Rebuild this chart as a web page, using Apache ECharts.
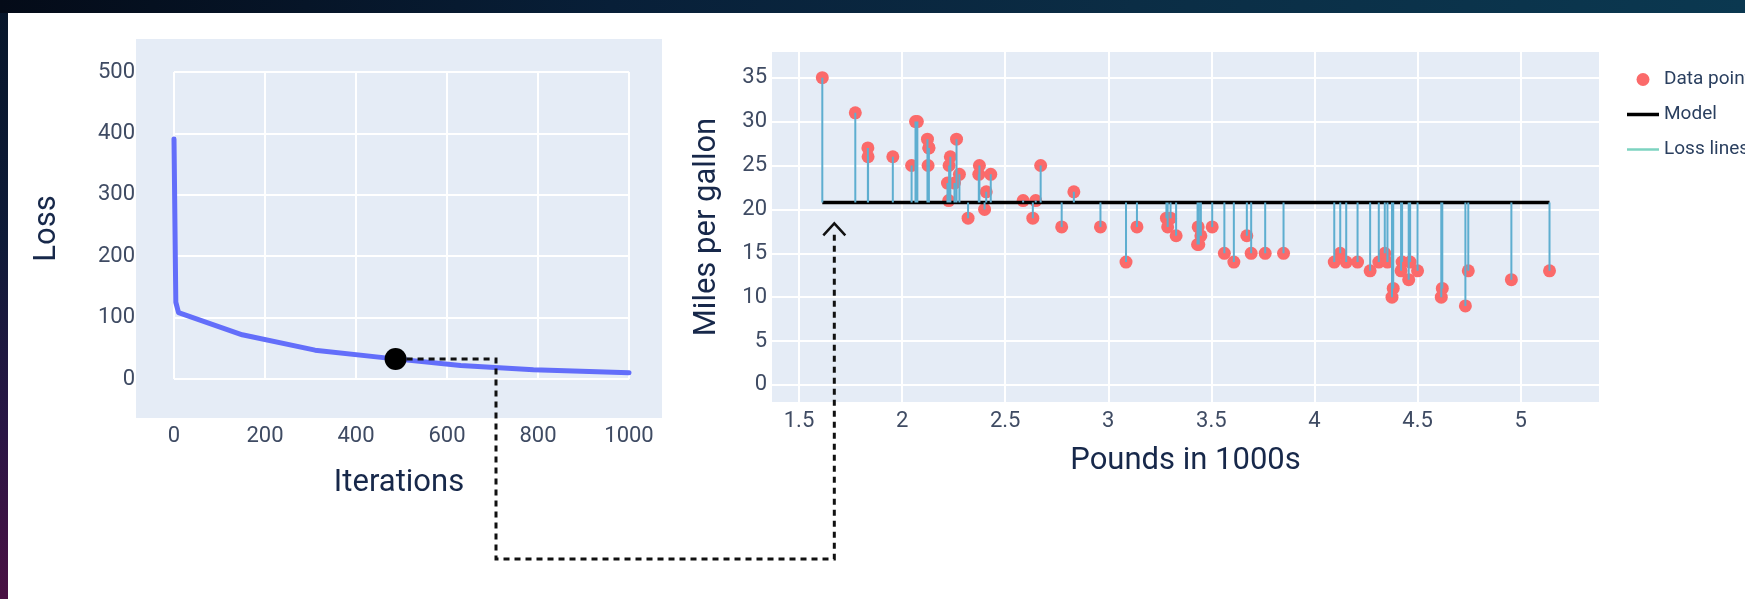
<!DOCTYPE html>
<html>
<head>
<meta charset="utf-8">
<script src="https://cdn.jsdelivr.net/npm/echarts@6/dist/echarts.min.js"></script>
<style>
  html, body { margin: 0; padding: 0; }
  body {
    width: 1745px; height: 599px; overflow: hidden; position: relative;
    background: linear-gradient(180deg, #07162a 0%, #0f1b38 40%, #2a1645 72%, #4a1143 100%);
  }
  #topband {
    position: absolute; left: 0; top: 0; width: 1745px; height: 13px;
    background: linear-gradient(90deg, #040b18 0%, #081f38 35%, #0b2d45 65%, #0b3850 100%);
  }
  #panel { position: absolute; left: 8px; top: 13px; width: 1737px; height: 586px; background: #ffffff; }
  #chart { position: absolute; left: 0; top: 0; width: 1745px; height: 599px; }
</style>
</head>
<body>
<div id="topband"></div>
<div id="panel"></div>
<div id="chart"></div>
<script>
// Training curve: loss per gradient-descent iteration
const iterations = [0, 4, 10, 150, 310, 470, 630, 790, 1000];
const lossValues = [391, 125, 108, 72, 47, 34, 22, 15, 10];
// Iteration whose model is drawn on the right
const currentIteration = 487;
const currentLoss = 32.7;

// Cars: weight (1000s of pounds) and fuel economy (mpg)
const weights = [1.613, 1.773, 1.834, 1.835, 1.955, 2.046, 2.065, 2.074, 2.123, 2.130,
  2.130, 2.126, 2.234, 2.228, 2.220, 2.226, 2.264, 2.278, 2.254, 2.375,
  2.372, 2.430, 2.408, 2.400, 2.320, 2.587, 2.648, 2.634, 2.672, 2.833,
  2.774, 2.962, 3.086, 3.139, 3.282, 3.302, 3.288, 3.329, 3.436, 3.433,
  3.439, 3.449, 3.504, 3.563, 3.609, 3.672, 3.693, 3.761, 3.850, 4.096,
  4.125, 4.154, 4.209, 4.270, 4.312, 4.341, 4.354, 4.382, 4.376, 4.425,
  4.420, 4.457, 4.464, 4.500, 4.620, 4.615, 4.732, 4.746, 4.955, 5.140];
const mpg = [35, 31, 27, 26, 26, 25, 30, 30, 28, 27,
  27, 25, 26, 25, 23, 21, 28, 24, 23, 25,
  24, 24, 22, 20, 19, 21, 21, 19, 25, 22,
  18, 18, 14, 18, 19, 19, 18, 17, 18, 16,
  16, 17, 18, 15, 14, 17, 15, 15, 15, 14,
  15, 14, 14, 13, 14, 15, 14, 11, 10, 14,
  13, 12, 14, 13, 11, 10, 9, 13, 12, 13];

// Current model (end points of the fitted line)
const modelWeights = [1.613, 5.14];
const modelMpg = [20.8, 20.8];

// Tick labels
const iterTicks = [0, 200, 400, 600, 800, 1000];
const lossTicks = [0, 100, 200, 300, 400, 500];
const weightTicks = [1.5, 2, 2.5, 3, 3.5, 4, 4.5, 5];
const mpgTicks = [0, 5, 10, 15, 20, 25, 30, 35];

const FONT = 'Roboto';
const TICK_COLOR = '#3f4b63';
const TITLE_COLOR = '#17284a';
const PLOT_BG = '#e5ecf6';

function modelAt(w) {
  const t = (w - modelWeights[0]) / (modelWeights[1] - modelWeights[0]);
  return modelMpg[0] + t * (modelMpg[1] - modelMpg[0]);
}

const lossCurve = iterations.map((it, i) => [it, lossValues[i]]);
const carPoints = weights.map((w, i) => [w, mpg[i]]);
const modelLine = modelWeights.map((w, i) => [w, modelMpg[i]]);
const residuals = [];
weights.forEach((w, i) => {
  residuals.push([w, mpg[i]], [w, modelAt(w)], [w, '-']);
});

const plainNumber = v => String(v);
const tickLabel = { fontFamily: FONT, fontSize: 22, color: TICK_COLOR, formatter: plainNumber };
const titleText = { fontFamily: FONT, fontSize: 31, color: TITLE_COLOR };
const whiteGrid = { show: true, lineStyle: { color: '#ffffff', width: 2 } };
const hiddenParts = {
  axisLine: { show: false }, axisTick: { show: false },
  axisLabel: { show: false }, splitLine: { show: false }
};

const chart = echarts.init(document.getElementById('chart'), null, { renderer: 'canvas' });

const option = {
  animation: false,
  backgroundColor: 'transparent',
  textStyle: { fontFamily: FONT },
  grid: [
    // loss panel background
    { left: 136, top: 39, width: 526, height: 379, show: true, backgroundColor: PLOT_BG, borderWidth: 0, z: 0 },
    // loss data area
    { left: 174, top: 72, width: 455, height: 307, show: false, z: 1 },
    // scatter panel
    { left: 772, top: 52, width: 827, height: 350, show: true, backgroundColor: PLOT_BG, borderWidth: 0, z: 0 }
  ],
  xAxis: [
    Object.assign({ gridIndex: 0, type: 'value', min: -81, max: 1071,
      name: 'Iterations', nameLocation: 'middle', nameGap: 50, nameTextStyle: titleText }, hiddenParts),
    { gridIndex: 1, type: 'value', min: iterTicks[0], max: iterTicks[iterTicks.length - 1], interval: 200, z: 3,
      axisLine: { show: false }, axisTick: { show: false },
      axisLabel: Object.assign({ margin: 46 }, tickLabel), splitLine: whiteGrid },
    { gridIndex: 2, type: 'value', min: 1.369, max: 5.38, z: 3,
      name: 'Pounds in 1000s', nameLocation: 'middle', nameGap: 44, nameTextStyle: titleText,
      axisLine: { show: false }, axisTick: { show: false, customValues: weightTicks },
      axisLabel: Object.assign({ margin: 8, customValues: weightTicks }, tickLabel), splitLine: whiteGrid }
  ],
  yAxis: [
    Object.assign({ gridIndex: 0, type: 'value', min: -63.5, max: 554,
      name: 'Loss', nameLocation: 'middle', nameGap: 73, nameRotate: 90, nameTextStyle: titleText }, hiddenParts),
    { gridIndex: 1, type: 'value', min: lossTicks[0], max: lossTicks[lossTicks.length - 1], interval: 100, z: 3,
      axisLine: { show: false }, axisTick: { show: false },
      axisLabel: Object.assign({ margin: 39 }, tickLabel), splitLine: whiteGrid },
    { gridIndex: 2, type: 'value', min: -1.94, max: 37.93, z: 3,
      name: 'Miles per gallon', nameLocation: 'middle', nameGap: 49, nameRotate: 90, nameTextStyle: titleText,
      axisLine: { show: false }, axisTick: { show: false, customValues: mpgTicks },
      axisLabel: Object.assign({ margin: 5, customValues: mpgTicks }, tickLabel), splitLine: whiteGrid }
  ],
  legend: {
    orient: 'vertical', left: 1622, top: 65,
    itemWidth: 32, itemHeight: 13, itemGap: 16,
    symbolKeepAspect: true,
    textStyle: { fontFamily: FONT, fontSize: 19, color: '#2a3f5f' },
    data: [
      { name: 'Data points', icon: 'circle', itemStyle: { color: '#fb6a6a', opacity: 1 } },
      { name: 'Model', icon: 'path://M0,0H32V3.5H0Z', itemStyle: { color: '#000000' } },
      { name: 'Loss lines', icon: 'path://M0,0H32V2.5H0Z', itemStyle: { color: '#7dd3c0' } }
    ]
  },
  series: [
    { type: 'line', name: 'Loss', xAxisIndex: 1, yAxisIndex: 1, data: lossCurve,
      symbol: 'none', clip: false, z: 3,
      lineStyle: { color: '#636efa', width: 5, join: 'round', cap: 'round' } },
    { type: 'scatter', name: 'Current', xAxisIndex: 1, yAxisIndex: 1,
      data: [[currentIteration, currentLoss]], symbolSize: 22, z: 6,
      itemStyle: { color: '#000000', opacity: 1 } },
    { type: 'scatter', name: 'Data points', xAxisIndex: 2, yAxisIndex: 2, data: carPoints,
      symbolSize: 13, z: 3, itemStyle: { color: '#fb6a6a', opacity: 1 } },
    { type: 'line', name: 'Model', xAxisIndex: 2, yAxisIndex: 2, data: modelLine,
      symbol: 'none', z: 4, itemStyle: { color: '#000000' },
      lineStyle: { color: '#000000', width: 3.5 } },
    { type: 'line', name: 'Loss lines', xAxisIndex: 2, yAxisIndex: 2, data: residuals,
      symbol: 'none', connectNulls: false, z: 5, itemStyle: { color: '#7dd3c0' },
      lineStyle: { color: '#5eaed0', width: 2 } }
  ]
};

chart.setOption(option);

// Dashed connector from the current iteration to the model it produces
const from = chart.convertToPixel({ xAxisIndex: 1, yAxisIndex: 1 }, [currentIteration, currentLoss]);
const modelStart = chart.convertToPixel({ xAxisIndex: 2, yAxisIndex: 2 }, modelLine[0]);
const elbowX = 496;
const bottomY = 559;
const arrowX = modelStart[0] + 12;
const tipY = modelStart[1] + 21;

chart.setOption({
  graphic: [
    { type: 'polyline', z: 5, silent: true,
      shape: { points: [[from[0], from[1]], [elbowX, from[1]], [elbowX, bottomY], [arrowX, bottomY], [arrowX, tipY + 9]] },
      style: { stroke: '#111111', lineWidth: 3, lineDash: [6, 5], fill: null } },
    { type: 'polyline', z: 5, silent: true,
      shape: { points: [[arrowX - 11, tipY + 12], [arrowX, tipY], [arrowX + 11, tipY + 12]] },
      style: { stroke: '#111111', lineWidth: 2.5, fill: null } }
  ]
});
</script>
</body>
</html>
